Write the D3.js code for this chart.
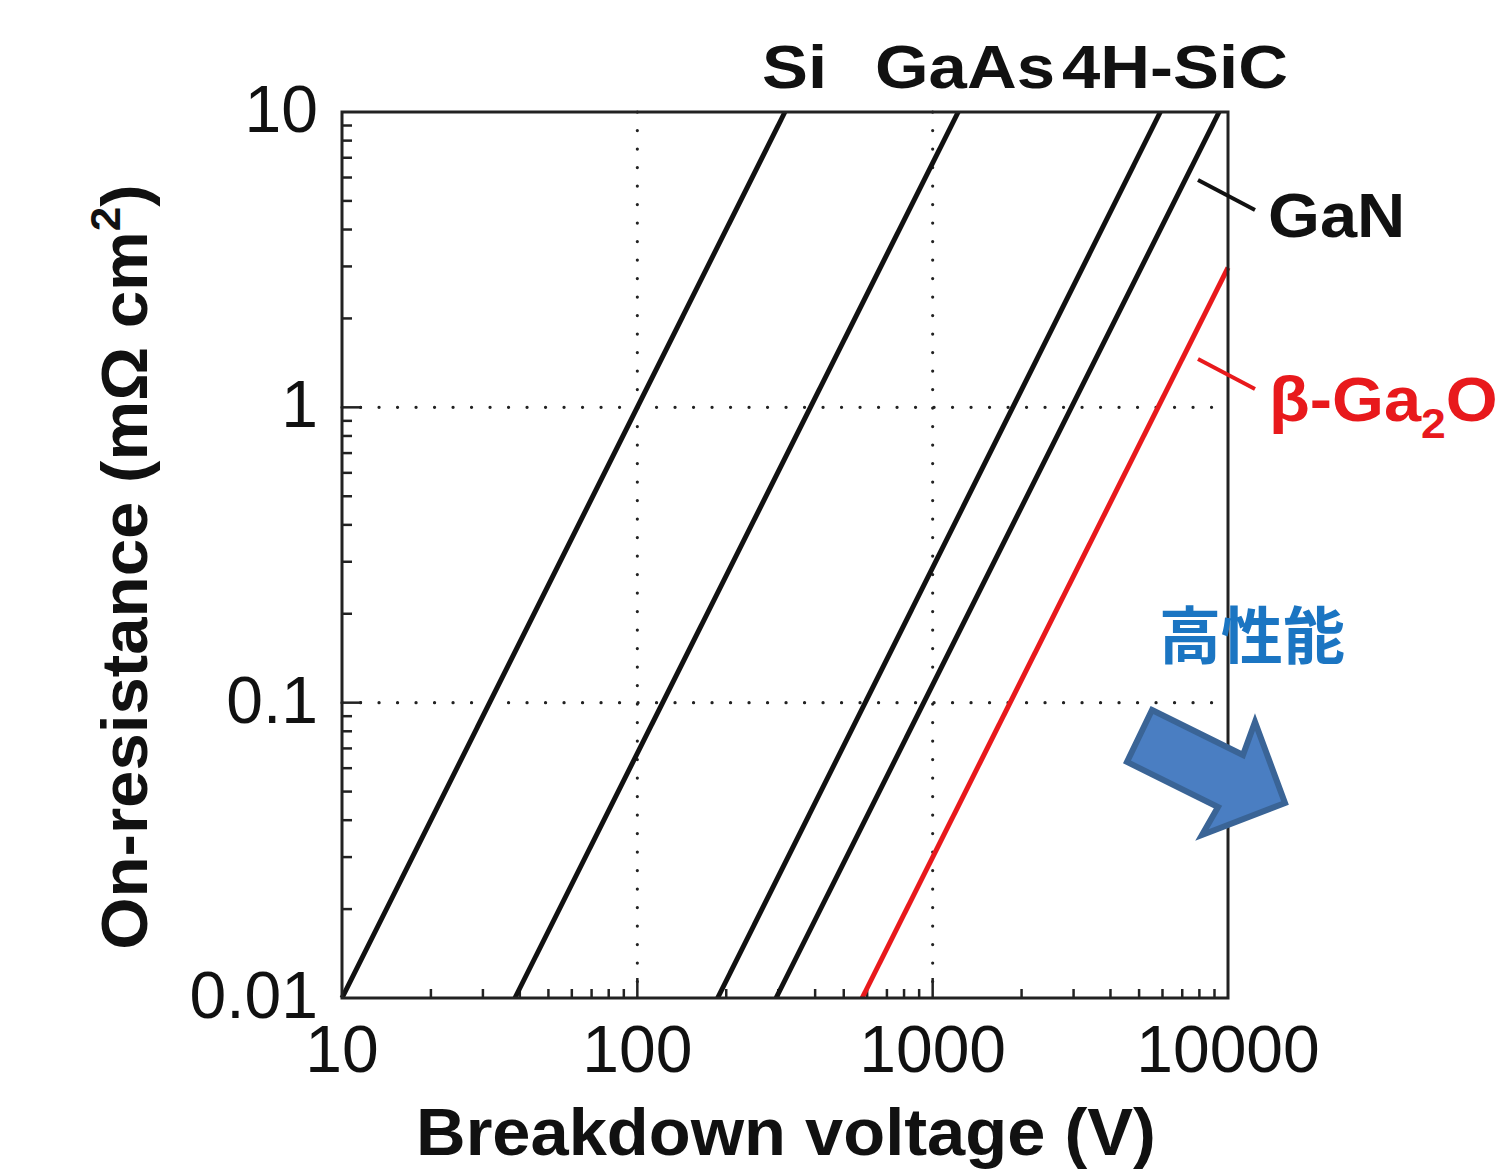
<!DOCTYPE html>
<html>
<head>
<meta charset="utf-8">
<script src="https://cdn.jsdelivr.net/npm/d3@7"></script>
<style>
  body { margin: 0; background: #fff; }
  svg { display: block; font-family: "Liberation Sans", Arial, sans-serif; }
</style>
</head>
<body>
<svg id="chart"></svg>
<script>
const width = 1498, height = 1170

// material limit lines (V, mOhm cm2)
const materials = ['Si', 'GaAs', '4H-SiC', 'GaN', 'β-Ga2O3']
const vStart = [10, 38.5, 187, 295, 577]
const vEnd = [316, 1220, 5900, 9330, 10000]
const rStart = [0.01, 0.01, 0.01, 0.01, 0.01]
const rEnd = [10, 10, 10, 10, 2.97]
const colors = ['#111', '#111', '#111', '#111', '#e8191c']

const xMajor = [10, 100, 1000, 10000]
const xLabels = ['10', '100', '1000', '10000']
const yMajor = [0.01, 0.1, 1, 10]
const yLabels = ['0.01', '0.1', '1', '10']

const svg = d3.select('#chart').attr('width', width).attr('height', height)

const x = d3.scaleLog().domain([10, 10000]).range([342, 1228])
const y = d3.scaleLog().domain([0.01, 10]).range([998, 112])

// dotted grid at inner decades
const grid = svg.append('g')
grid.selectAll('.vg').data(xMajor.slice(1, -1)).enter().append('line')
  .attr('x1', d => x(d)).attr('x2', d => x(d))
  .attr('y1', y(10)).attr('y2', y(0.01))
  .attr('stroke', '#222').attr('stroke-width', 3.2)
  .attr('stroke-dasharray', '0.1,18.4').attr('stroke-linecap', 'round')
grid.selectAll('.hg').data(yMajor.slice(1, -1)).enter().append('line')
  .attr('x1', x(10)).attr('x2', x(10000))
  .attr('y1', d => y(d)).attr('y2', d => y(d))
  .attr('stroke', '#222').attr('stroke-width', 3.2)
  .attr('stroke-dasharray', '0.1,18.4').attr('stroke-linecap', 'round')

// ticks inside the frame, only bottom and left
const ticks = svg.append('g').attr('stroke', '#222').attr('stroke-width', 2.5)
const xt = x.ticks().filter(d => d > 10 && d < 10000)
ticks.selectAll('.xt').data(xt).enter().append('line')
  .attr('x1', d => x(d)).attr('x2', d => x(d))
  .attr('y1', y(0.01))
  .attr('y2', d => y(0.01) - (xMajor.includes(d) ? 20 : 9))
const yt = y.ticks().filter(d => d > 0.01 && d < 10)
ticks.selectAll('.yt').data(yt).enter().append('line')
  .attr('y1', d => y(d)).attr('y2', d => y(d))
  .attr('x1', x(10))
  .attr('x2', d => x(10) + (yMajor.some(m => Math.abs(m - d) < 1e-9) ? 20 : 10))

// lines
const line = d3.line().x(d => x(d[0])).y(d => y(d[1]))
materials.forEach((m, i) => {
  svg.append('path')
    .datum([[vStart[i], rStart[i]], [vEnd[i], rEnd[i]]])
    .attr('d', line)
    .attr('fill', 'none')
    .attr('stroke', colors[i])
    .attr('stroke-width', 5)
})

// frame
svg.append('rect')
  .attr('x', x(10)).attr('y', y(10))
  .attr('width', x(10000) - x(10)).attr('height', y(0.01) - y(10))
  .attr('fill', 'none').attr('stroke', '#222').attr('stroke-width', 3)

// tick labels
svg.selectAll('.xl').data(xMajor).enter().append('text')
  .attr('x', d => x(d)).attr('y', 1072)
  .attr('text-anchor', 'middle')
  .attr('font-size', 66).attr('fill', '#111')
  .text((d, i) => xLabels[i])
svg.selectAll('.yl').data(yMajor).enter().append('text')
  .attr('x', 318).attr('y', d => y(d) + 20)
  .attr('text-anchor', 'end')
  .attr('font-size', 66).attr('fill', '#111')
  .text((d, i) => yLabels[i])

// axis titles
svg.append('text')
  .attr('transform', 'translate(786,1155) scale(1.04,1)')
  .attr('text-anchor', 'middle')
  .attr('font-size', 66).attr('font-weight', 'bold').attr('fill', '#111')
  .text('Breakdown voltage (V)')

const yTitle = svg.append('text')
  .attr('transform', 'translate(147,567) rotate(-90) scale(1.05,1)')
  .attr('text-anchor', 'middle')
  .attr('font-size', 64).attr('font-weight', 'bold').attr('fill', '#111')
yTitle.append('tspan').text('On-resistance (mΩ cm')
yTitle.append('tspan').attr('font-size', 42).attr('dy', -27).text('2')
yTitle.append('tspan').attr('dy', 27).text(')')

// material labels (the source font is wider than Liberation Sans)
const topLabels = [['Si', 762], ['GaAs', 875], ['4H-SiC', 1062]]
topLabels.forEach(t => {
  svg.append('text')
    .attr('transform', `translate(${t[1]},88) scale(1.13,1)`)
    .attr('font-size', 61).attr('font-weight', 'bold').attr('fill', '#111')
    .text(t[0])
})

svg.append('line').attr('x1', 1198).attr('y1', 180).attr('x2', 1255).attr('y2', 210)
  .attr('stroke', '#111').attr('stroke-width', 4)
svg.append('text')
  .attr('transform', 'translate(1268,237) scale(1.06,1)')
  .attr('font-size', 63).attr('font-weight', 'bold').attr('fill', '#111')
  .text('GaN')

svg.append('line').attr('x1', 1198).attr('y1', 359).attr('x2', 1255).attr('y2', 389)
  .attr('stroke', '#e8191c').attr('stroke-width', 4)
const ga = svg.append('text')
  .attr('transform', 'translate(1269,421) scale(1.06,1)')
  .attr('font-size', 63).attr('font-weight', 'bold').attr('fill', '#e8191c')
ga.append('tspan').text('β-Ga')
ga.append('tspan').attr('font-size', 42).attr('dy', 17).text('2')
ga.append('tspan').attr('dy', -17).text('O')
ga.append('tspan').attr('font-size', 42).attr('dy', 17).text('3')

// 高性能 with block arrow
svg.append('text').attr('x', 1252).attr('y', 659)
  .attr('text-anchor', 'middle')
  .attr('font-family', '"Noto Sans CJK JP", sans-serif')
  .attr('font-size', 62).attr('font-weight', 'bold').attr('fill', '#1b75c2')
  .text('高性能')

const arrow = [[1152, 710], [1243, 755], [1255, 722], [1285, 803], [1202, 835], [1218, 807], [1127, 762]]
svg.append('polygon')
  .attr('points', arrow.map(p => p.join(',')).join(' '))
  .attr('fill', '#4a7ec2').attr('stroke', '#3a6496').attr('stroke-width', 6)
  .attr('stroke-linejoin', 'miter')
</script>
</body>
</html>
